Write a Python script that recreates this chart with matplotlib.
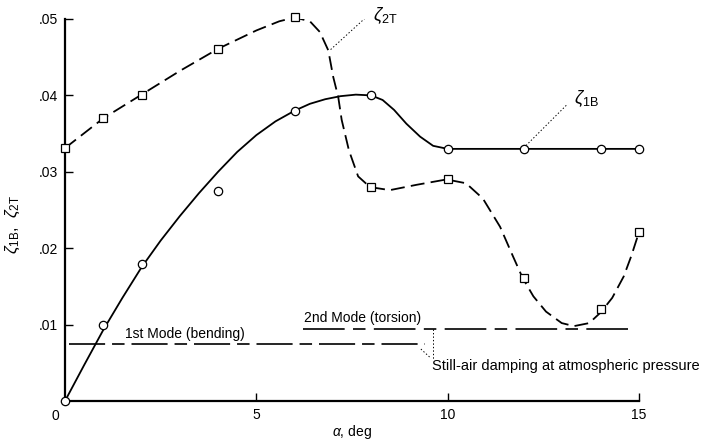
import matplotlib
matplotlib.use("Agg")
import matplotlib.pyplot as plt

# ------------------------------
# Data
# ------------------------------
# measured points
alpha_1b = [0, 1, 2, 4, 6, 8, 10, 12, 14, 15]
zeta_1b = [0.0, 0.0100, 0.0179, 0.0275, 0.0380, 0.0400, 0.0330, 0.0330, 0.0330, 0.0330]

alpha_2t = [0, 1, 2, 4, 6, 8, 10, 12, 14, 15]
zeta_2t = [0.0331, 0.0370, 0.0401, 0.0461, 0.0502, 0.0280, 0.0290, 0.0161, 0.0120, 0.0221]

# faired curves
curve_1b_x = [0, 0.5, 1.0, 1.5, 2.0, 2.5, 3.0, 3.5, 4.0, 4.5, 5.0, 5.5, 6.0,
              6.4, 6.8, 7.2, 7.6, 8.0, 8.3, 8.6, 8.92, 9.28, 9.62, 10.0, 15.0]
curve_1b_y = [0.0, 0.0047, 0.0093, 0.0135, 0.0175, 0.0210, 0.0242, 0.0272, 0.0300,
              0.0326, 0.0348, 0.0366, 0.0380, 0.0389, 0.0395, 0.0399, 0.0401, 0.0400,
              0.0394, 0.0381, 0.0363, 0.0346, 0.0334, 0.0330, 0.0330]

curve_2t_x = [0, 1, 2, 3, 4, 5, 5.6, 6.0, 6.4, 6.66, 6.88, 7.01, 7.14, 7.23, 7.42,
              7.66, 7.97, 8.49, 9.19, 9.97, 10.48, 10.92, 11.37, 11.71, 11.96, 12.24,
              12.57, 12.98, 13.3, 13.7, 14.0, 14.3, 14.6, 14.8, 15.0]
curve_2t_y = [0.0331, 0.0370, 0.0401, 0.0432, 0.0461, 0.0485, 0.0497, 0.0502, 0.0497,
              0.0483, 0.0459, 0.0424, 0.0398, 0.0368, 0.0328, 0.0294, 0.0280, 0.0276,
              0.0283, 0.0290, 0.0285, 0.0265, 0.0228, 0.0189, 0.0161, 0.0137, 0.0117,
              0.0102, 0.0098, 0.0102, 0.0116, 0.0135, 0.0163, 0.0190, 0.0221]

# still-air damping levels
still_1b_x = [0.1, 9.4]
still_1b_y = [0.0074, 0.0074]
still_2t_x = [6.23, 14.7]
still_2t_y = [0.0094, 0.0094]

x_ticks = [5, 10, 15]
y_ticks = [0.01, 0.02, 0.03, 0.04, 0.05]
y_tick_labels = [".01", ".02", ".03", ".04", ".05"]

# ------------------------------
# Style
# ------------------------------
fam = "Liberation Sans"
plt.rcParams["font.family"] = [fam, "DejaVu Sans"]
plt.rcParams["mathtext.fontset"] = "custom"
plt.rcParams["mathtext.rm"] = fam
plt.rcParams["mathtext.it"] = fam + ":italic"
plt.rcParams["lines.scale_dashes"] = False

fig = plt.figure(figsize=(7.03, 4.41), dpi=100)
ax = fig.add_axes([65 / 703, 40 / 441, 574 / 703, 382 / 441])

# curves
ax.plot(curve_1b_x, curve_1b_y, color="black", lw=1.3, solid_joinstyle="round")
ax.plot(curve_2t_x, curve_2t_y, color="black", lw=1.3, dashes=(10, 4.5))

# points
ax.plot(alpha_1b, zeta_1b, "o", ms=6, mfc="white", mec="black", mew=0.9, clip_on=False, zorder=5)
ax.plot(alpha_2t, zeta_2t, "s", ms=6, mfc="white", mec="black", mew=0.9, clip_on=False, zorder=5)

# still-air damping lines
ax.plot(still_1b_x, still_1b_y, color="black", lw=1.2, dashes=(26, 5, 9, 5))
ax.plot(still_2t_x, still_2t_y, color="black", lw=1.2, dashes=(30, 6, 9, 6))

# labels
ax.text(1.57, 0.0088, "1st Mode (bending)", fontsize=10, va="center")
ax.text(6.25, 0.0109, "2nd Mode (torsion)", fontsize=10, va="center")
ax.text(9.6, 0.0046, "Still-air damping at atmospheric pressure", fontsize=10.5, va="center")
ax.plot([9.62, 9.62], [0.0094, 0.0055], color="black", lw=0.7, ls=(0, (1, 1.5)))
ax.plot([9.3, 9.54], [0.0068, 0.0057], color="black", lw=0.7, ls=(0, (1, 1.5)))

ax.text(8.05, 0.0504, r"$\zeta_{\rm 2T}$", fontsize=13, va="center")
ax.plot([7.84, 6.92], [0.0501, 0.0459], color="black", lw=0.7, ls=(0, (1, 1.5)))
ax.text(13.3, 0.0396, r"$\zeta_{\rm 1B}$", fontsize=13, va="center")
ax.plot([13.1, 12.0], [0.0387, 0.0332], color="black", lw=0.7, ls=(0, (1, 1.5)))

# axes
ax.set_xlim(0, 15)
ax.set_ylim(0, 0.05)
ax.spines["top"].set_visible(False)
ax.spines["right"].set_visible(False)
ax.spines["left"].set_linewidth(1.6)
ax.spines["bottom"].set_linewidth(1.6)
ax.set_xticks(x_ticks)
ax.set_xticklabels([str(t) for t in x_ticks])
ax.set_yticks(y_ticks)
ax.set_yticklabels(y_tick_labels)
ax.tick_params(direction="in", length=6, width=1, labelsize=10, pad=5)
ax.text(-0.26, -0.001, "0", fontsize=10, ha="center", va="top")

ax.set_xlabel(r"$\alpha$, deg", fontsize=10, labelpad=1)
ax.set_ylabel(r"$\zeta_{\rm 1B}$,  $\zeta_{\rm 2T}$", fontsize=12)
ax.yaxis.set_label_coords(-0.075, 0.463)

fig.savefig("out.png", dpi=100)
